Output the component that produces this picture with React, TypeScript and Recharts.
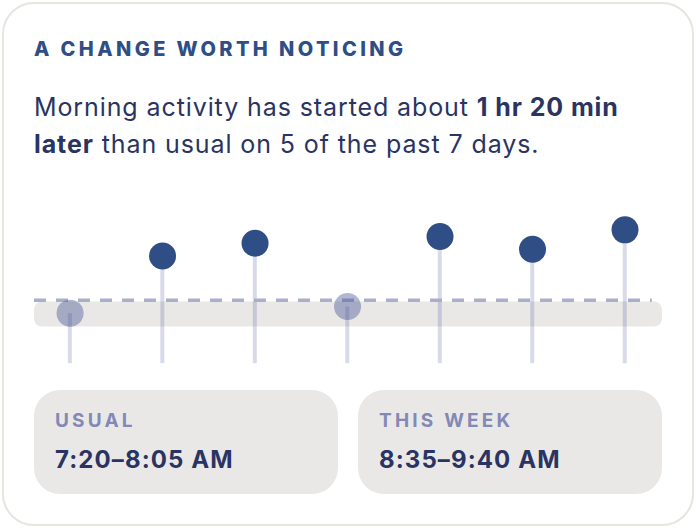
import { ComposedChart, XAxis, YAxis, Bar, Scatter, Cell, ReferenceArea, ReferenceLine } from "recharts";

// start of morning activity, minutes after midnight
const days = [0, 1, 2, 3, 4, 5, 6];
const startMinutes = [464, 567, 590, 476, 602, 579, 614];
const isUsual = [true, false, false, true, false, false, false];
const usualStart = 440; // 7:20
const usualEnd = 485; // 8:05
const stemBase = 374;

const navy = "#2f4e85";
const ink = "#2a3463";
const font = "Inter, 'Noto Sans', sans-serif";

const data = days.map((d, i) => ({
  day: d,
  start: startMinutes[i],
  stem: [stemBase, startMinutes[i]],
}));

function Dot(props: any) {
  return <circle cx={props.cx} cy={props.cy} r={13.5} fill={props.fill} />;
}

function SummaryBox({ left, label, value }: { left: number; label: string; value: string }) {
  return (
    <div
      style={{
        position: "absolute",
        left,
        top: 390,
        width: 304,
        height: 104,
        borderRadius: 26,
        background: "#e9e8e6",
      }}
    >
      <div
        style={{
          position: "absolute",
          left: 21,
          top: 19,
          fontSize: 19,
          lineHeight: "23px",
          fontWeight: 700,
          letterSpacing: 3.2,
          color: "#8389b6",
          whiteSpace: "nowrap",
        }}
      >
        {label}
      </div>
      <div
        style={{
          position: "absolute",
          left: 21,
          top: 55,
          fontSize: 24,
          lineHeight: "29px",
          fontWeight: 700,
          letterSpacing: 1.1,
          color: ink,
          whiteSpace: "nowrap",
        }}
      >
        {value}
      </div>
    </div>
  );
}

export default function App() {
  return (
    <div style={{ position: "absolute", left: 0, top: 0, width: 696, height: 528, fontFamily: font, background: "#fff" }}>
      <div
        style={{
          position: "absolute",
          left: 2,
          top: 2,
          width: 692,
          height: 524,
          boxSizing: "border-box",
          border: "2px solid #e8e5e1",
          borderRadius: 32,
          background: "#fff",
        }}
      />
      <div
        style={{
          position: "absolute",
          left: 34,
          top: 39,
          fontSize: 20,
          fontWeight: 800,
          letterSpacing: 3.4,
          color: navy,
          lineHeight: "20px",
          whiteSpace: "nowrap",
        }}
      >
        A CHANGE WORTH NOTICING
      </div>
      <div
        style={{
          position: "absolute",
          left: 34,
          top: 89,
          width: 650,
          fontSize: 25,
          lineHeight: "37px",
          letterSpacing: 0.9,
          color: ink,
          whiteSpace: "nowrap",
        }}
      >
        Morning activity has started about <b>1 hr 20 min</b>
        <br />
        <b>later</b> than usual on 5 of the past 7 days.
      </div>
      <div style={{ position: "absolute", left: 0, top: 200 }}>
        <ComposedChart
          width={696}
          height={180}
          data={data}
          margin={{ top: 4.3, right: 34, bottom: 9.1, left: 34 }}
        >
          <XAxis type="number" dataKey="day" domain={[-0.39, 6.4]} hide />
          <YAxis type="number" domain={[360, 660]} hide />
          <ReferenceArea
            y1={usualStart}
            y2={usualEnd}
            fill="#e9e8e6"
            fillOpacity={1}
            stroke="none"
            radius={8}
            ifOverflow="visible"
          />
          <ReferenceLine
            segment={[
              { x: -0.39, y: usualEnd + 2 },
              { x: 6.29, y: usualEnd + 2 },
            ]}
            stroke="#a9aecb"
            strokeWidth={3.5}
            strokeDasharray="12 10"
            ifOverflow="visible"
          />
          <Bar dataKey="stem" barSize={4} fill="rgba(60,70,150,0.2)" isAnimationActive={false} />
          <Scatter dataKey="start" shape={Dot} isAnimationActive={false}>
            {data.map((d, i) => (
              <Cell key={d.day} fill={isUsual[i] ? "rgba(70,82,150,0.42)" : navy} />
            ))}
          </Scatter>
        </ComposedChart>
      </div>
      <SummaryBox left={34} label="USUAL" value="7:20–8:05 AM" />
      <SummaryBox left={358} label="THIS WEEK" value="8:35–9:40 AM" />
    </div>
  );
}
